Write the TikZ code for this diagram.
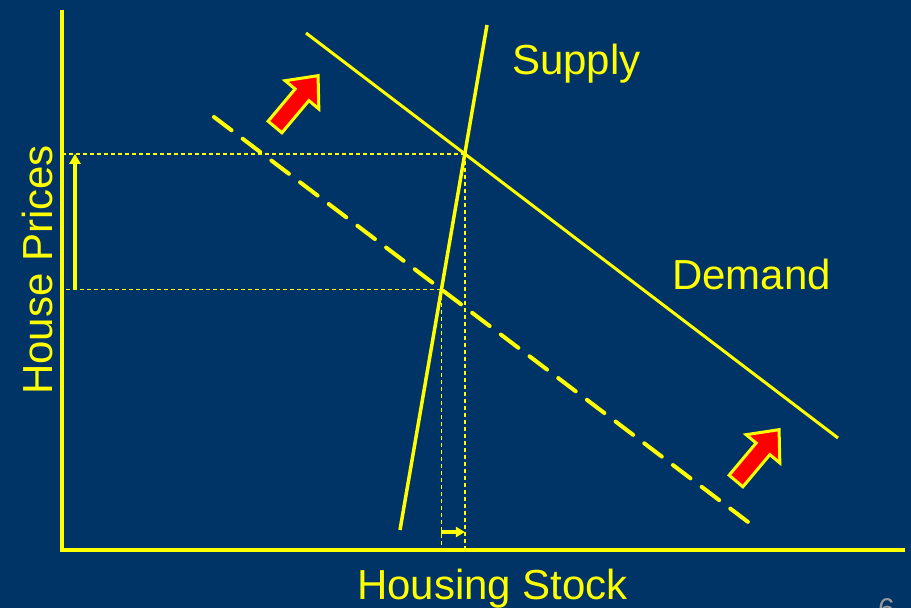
\documentclass[tikz,border=0pt]{standalone}
\usepackage{fontspec}
\setmainfont{Liberation Sans}
\usepackage{tikz}
\usetikzlibrary{arrows.meta,calc}

\definecolor{slidebg}{RGB}{0,51,102}
\definecolor{lineyellow}{RGB}{255,255,0}
\definecolor{arrowred}{RGB}{255,0,0}

\begin{document}
\begin{tikzpicture}[
  x=1pt,y=1pt,
  axis/.style={lineyellow,line width=4pt},
  curve/.style={lineyellow,line width=3pt},
  shifted/.style={lineyellow,line width=4pt,line cap=round,
    dash pattern=on 22pt off 14pt},
  guide/.style={lineyellow,line width=1.6pt,dash pattern=on 4pt off 3pt},
  change/.style={lineyellow,line width=4pt,-{Triangle[length=10pt,width=11pt]}},
  label/.style={lineyellow,inner sep=0pt,anchor=base west,
    font=\fontsize{42}{50}\selectfont},
  shiftarrow/.pic={
    \filldraw[fill=arrowred,draw=lineyellow,line width=3pt,line join=miter]
      (0,-9) -- (42,-9) -- (42,-22) -- (67,0) -- (42,22) -- (42,9)
      -- (0,9) -- cycle;
  }
]
  \useasboundingbox (0,0) rectangle (911,608);
  \fill[slidebg] (0,0) rectangle (911,608);

  % axes
  \coordinate (origin) at (62,58);
  \coordinate (y-top) at (62,598);
  \coordinate (x-end) at (905,58);
  \draw[axis] (y-top) -- (origin) -- (x-end);

  % supply and the two demand curves
  \coordinate (supply-low) at (400,78);
  \coordinate (supply-high) at (487,583);
  \coordinate (demand-start) at (306,575);
  \coordinate (demand-end) at (838,170);
  \coordinate (old-start) at (214,491);
  \coordinate (old-end) at (752,83);
  \draw[curve,line width=3.5pt] (supply-low) -- (supply-high);
  \draw[curve] (demand-start) -- (demand-end);
  \draw[shifted] (old-start) -- (old-end);

  % equilibria
  \coordinate (eq-new) at (intersection of supply-low--supply-high and demand-start--demand-end);
  \coordinate (eq-old) at (intersection of supply-low--supply-high and old-start--old-end);
  \draw[guide] (eq-new) -- (origin |- eq-new);
  \draw[guide] (eq-new) -- (eq-new |- origin);
  \draw[guide] (eq-old) -- (origin |- eq-old);
  \draw[guide] (eq-old) -- (eq-old |- origin);

  % price and stock changes
  \coordinate (price-low) at ($(origin |- eq-old)+(13,0)$);
  \coordinate (price-high) at ($(origin |- eq-new)+(13,0)$);
  \draw[change] (price-low) -- (price-high);
  \coordinate (stock-low) at (eq-old |- 0,76);
  \coordinate (stock-high) at (eq-new |- 0,76);
  \draw[change,-{Triangle[length=9pt,width=10pt]}] (stock-low) -- (stock-high);

  % demand shift arrows
  \pic[rotate=50] at (275,481) {shiftarrow};
  \pic[rotate=50] at (736,127) {shiftarrow};

  % labels
  \node[label] (supply-label) at (512,533) {Supply};
  \node[label] (demand-label) at (672,318) {Demand};
  \node[label] (stock-label) at (357,8) {Housing Stock};
  \node[label,rotate=90] (price-label) at (52,213) {House Prices};
  \node[inner sep=0pt,anchor=base west,text=gray!80,
    font=\fontsize{30}{36}\selectfont] (slide-number) at (878,-12) {6};
\end{tikzpicture}
\end{document}
